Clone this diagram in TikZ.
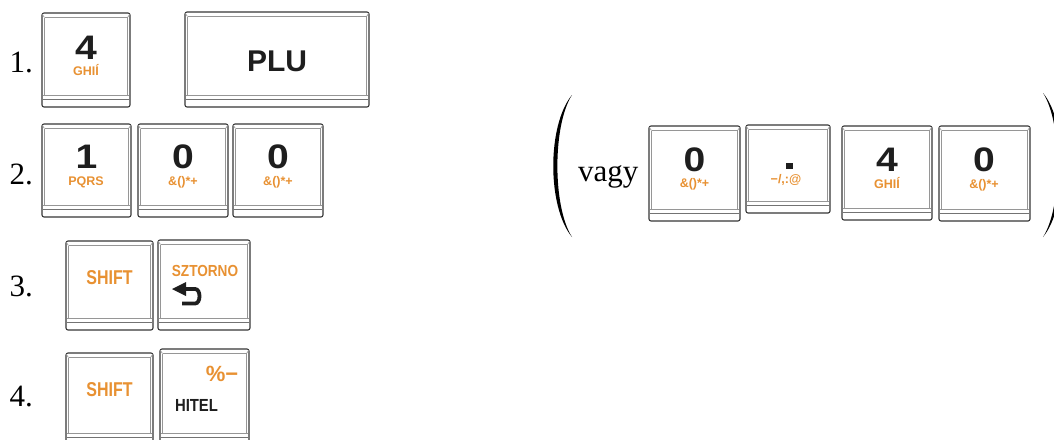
\documentclass[tikz,border=0pt]{standalone}
\usepackage{fontspec}
\setmainfont{Liberation Serif}
\setsansfont{Liberation Sans}
\usetikzlibrary{fit}
\definecolor{keyline}{RGB}{55,55,55}
\definecolor{keygray}{RGB}{150,150,150}
\definecolor{keyorange}{RGB}{232,145,50}
\definecolor{keytext}{RGB}{30,30,30}
\tikzset{
  keyshape/.style={draw=keyline, line width=1.1pt, rounded corners=2pt, inner sep=0pt},
  keyinner/.style={draw=keygray, line width=0.6pt},
  lbl/.style={font=\fontsize{31}{31}\selectfont\rmfamily, inner sep=0pt, anchor=base east},
  digit/.style={font=\fontsize{34}{34}\selectfont\sffamily\bfseries, inner sep=0pt, text=keytext, text height=24.3pt, text depth=0pt},
  sublbl/.style={font=\fontsize{12.5}{12.5}\selectfont\sffamily\bfseries, inner sep=0pt, text=keyorange, text height=9pt, text depth=0pt},
  wordlbl/.style={font=\sffamily\bfseries, inner sep=0pt, text depth=0pt},
}
\newcommand\kbkey[5]{%
  \node[keyshape, fit={(#2,#3) (#4,#5)}] (#1) {};
  \draw[keyinner] (#2+2.5,#3+4.5) -- (#4-2.5,#3+4.5);
  \draw[keyinner] (#2,#3+1) -- (#2+2.5,#3+4.5);
  \draw[keyinner] (#4,#3+1) -- (#4-2.5,#3+4.5);
  \draw[keyinner] (#2+2.5,#3+4.5) -- (#2+2.5,#5-12);
  \draw[keyinner] (#4-2.5,#3+4.5) -- (#4-2.5,#5-12);
  \draw[keyinner] (#2+0.8,#5-12) -- (#4-0.8,#5-12);
  \draw[keyinner, draw=keyline!70] (#2+0.8,#5-7.5) -- (#4-0.8,#5-7.5);
}
\begin{document}
\begin{tikzpicture}[x=1pt,y=-1pt]
\clip (0,0) rectangle (1054,439);
\fill[white] (0,0) rectangle (1054,439);

% row labels
\node[lbl] (n1) at (33,72) {1.};
\node[lbl] (n2) at (33,184) {2.};
\node[lbl] (n3) at (33,296) {3.};
\node[lbl] (n4) at (33,406) {4.};

% row 1
\kbkey{kA}{42}{13}{130}{107}
\node[digit] (kAd) at (86,47.5) {\scalebox{1.15}[1]{4}};
\node[sublbl] (kAs) at (86,71) {GHIÍ};
\kbkey{kPLU}{185}{12}{369}{107}
\node[wordlbl, font=\fontsize{30}{30}\selectfont\sffamily\bfseries, text=keytext] (kPLUt) at (277,61) {PLU};

% row 2
\kbkey{kB}{42}{124}{131}{217}
\node[digit] (kBd) at (86.5,156) {\scalebox{1.15}[1]{1}};
\node[sublbl] (kBs) at (86,181) {PQRS};
\kbkey{kC}{138}{124}{228}{217}
\node[digit] (kCd) at (183,156) {\scalebox{1.15}[1]{0}};
\node[sublbl] (kCs) at (183,181) {\&()*+};
\kbkey{kD}{233}{124}{323}{217}
\node[digit] (kDd) at (278,156) {\scalebox{1.15}[1]{0}};
\node[sublbl] (kDs) at (278,181) {\&()*+};

% row 3
\kbkey{kE}{66}{241}{153}{330}
\node[wordlbl, font=\fontsize{20}{20}\selectfont\sffamily\bfseries, text=keyorange] (kEt) at (109.5,277.5) {\scalebox{0.8}[1]{SHIFT}};
\kbkey{kF}{158}{240}{250}{330}
\node[wordlbl, font=\fontsize{16}{16}\selectfont\sffamily\bfseries, text=keyorange] (kFt) at (205,270.5) {\scalebox{0.85}[1]{SZTORNO}};
\draw[keytext, line width=3.8pt] (184,289) -- (195,289) .. controls (201,289) and (201,303.5) .. (195,303.5) -- (182,303.5);
\fill[keytext] (172,289) -- (186,282) -- (186,296) -- cycle;

% row 4
\kbkey{kG}{66}{353}{153}{445}
\node[wordlbl, font=\fontsize{20}{20}\selectfont\sffamily\bfseries, text=keyorange] (kGt) at (109.5,390) {\scalebox{0.8}[1]{SHIFT}};
\kbkey{kH}{160}{349}{249}{445}
\node[wordlbl, font=\fontsize{22}{22}\selectfont\sffamily\bfseries, text=keyorange] (kHp) at (222,373.5) {\%−};
\node[wordlbl, font=\fontsize{17.5}{17.5}\selectfont\sffamily\bfseries, text=keytext] (kHt) at (196.5,405.5) {\scalebox{0.85}[1]{HITEL}};

% alternative
\fill[black] (572,95) .. controls (547,125) and (547,207) .. (572,237)
  .. controls (552.5,207) and (552.5,125) .. (572,95) -- cycle;
\fill[black] (1043,93) .. controls (1068,123) and (1068,207) .. (1043,237)
  .. controls (1062.5,207) and (1062.5,123) .. (1043,93) -- cycle;
\node[font=\fontsize{31}{31}\selectfont\rmfamily, inner sep=0pt, anchor=base west] (vagy) at (578,181) {vagy};

\kbkey{kI}{649}{126}{740}{221}
\node[digit] (kId) at (694.5,159) {\scalebox{1.15}[1]{0}};
\node[sublbl] (kIs) at (694.5,183) {\&()*+};
\kbkey{kJ}{746}{125}{830}{213}
\node[fill=keytext, minimum size=6.5pt, inner sep=0pt] (kJd) at (789.5,166) {};
\node[sublbl] (kJs) at (786,178.5) {−/,:@};
\kbkey{kK}{842}{126}{932}{220}
\node[digit] (kKd) at (887,159.5) {\scalebox{1.15}[1]{4}};
\node[sublbl] (kKs) at (887,184) {GHIÍ};
\kbkey{kL}{939}{126}{1030}{221}
\node[digit] (kLd) at (984,159.5) {\scalebox{1.15}[1]{0}};
\node[sublbl] (kLs) at (984,184) {\&()*+};
\end{tikzpicture}
\end{document}
